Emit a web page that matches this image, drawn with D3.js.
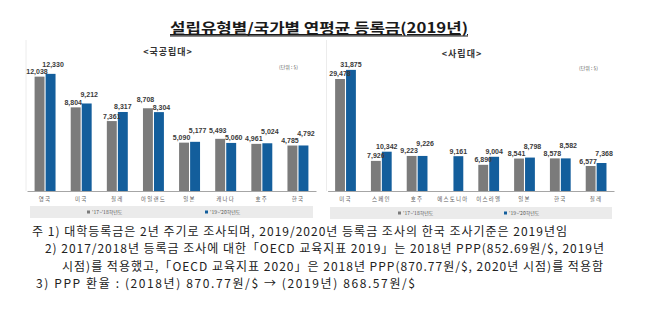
<!DOCTYPE html>
<html><head><meta charset="utf-8">
<script src="https://cdn.jsdelivr.net/npm/d3@7"></script>
<style>
html,body{margin:0;padding:0;background:#fff;}
svg{display:block;}
</style></head>
<body>
<script>
// ---- data ----
const title = "설립유형별/국가별 연평균 등록금(2019년)";
const seriesNames = ["'17~'18학년도", "'19~'20학년도"];
const publicTitle = "<국공립대>";
const publicCats = ["영국", "미국", "칠레", "아일랜드", "일본", "캐나다", "호주", "한국"];
const public1718 = [12038, 8804, 7361, 8708, 5090, 5493, 4961, 4785];
const public1920 = [12330, 9212, 8317, 8304, 5177, 5060, 5024, 4792];
const privateTitle = "<사립대>";
const privateCats = ["미국", "스페인", "호주", "에스토니아", "이스라엘", "일본", "한국", "칠레"];
const private1718 = [29478, 7926, 9223, null, 6890, 8541, 8578, 6577];
const private1920 = [31875, 10342, 9226, 9161, 9004, 8798, 8582, 7368];
const unitLabel = "(단위 : $)";
const notes = [
  "주 1) 대학등록금은 2년 주기로 조사되며, 2019/2020년 등록금 조사의 한국 조사기준은 2019년임",
  "2) 2017/2018년 등록금 조사에 대한「OECD 교육지표 2019」는 2018년 PPP(852.69원/$, 2019년",
  "시점)를 적용했고,「OECD 교육지표 2020」은 2018년 PPP(870.77원/$, 2020년 시점)를 적용함",
  "3) PPP 환율 : (2018년) 870.77원/$ → (2019년) 868.57원/$"
];

// ---- drawing ----
const W = 650, H = 327;
const colors = ["#7b7b7b", "#135e9c"];
const svg = d3.select("body").append("svg").attr("width", W).attr("height", H);
const kfont = "'Noto Sans CJK KR','Noto Sans',sans-serif";

// title
svg.append("text").attr("x", 170).attr("y", 33)
  .attr("font-family", kfont).attr("font-weight", "bold").attr("font-size", 14)
  .attr("fill", "#1a1a1a").attr("textLength", 298).attr("lengthAdjust", "spacingAndGlyphs")
  .attr("text-decoration", "underline").text(title);
svg.append("line").attr("x1", 170).attr("x2", 468).attr("y1", 36).attr("y2", 36)
  .attr("stroke", "#1a1a1a").attr("stroke-width", 1.2);

function drawChart(cfg) {
  const g = svg.append("g");
  const data = cfg.cats.map((c, i) => ({cat: c, vals: [cfg.a[i], cfg.b[i]]}));
  const x0 = d3.scaleBand().domain(cfg.cats).range(cfg.xr).paddingInner(0.42).paddingOuter(0.21);
  const x1 = d3.scaleBand().domain([0, 1]).range([0, x0.bandwidth()]).paddingInner(0.1);
  const y = d3.scaleLinear().domain([0, cfg.max]).range([191, 58]);

  // faint frame edge
  g.append("line").attr("x1", cfg.frameX).attr("x2", cfg.frameX).attr("y1", 40).attr("y2", 191)
    .attr("stroke", "#ececec").attr("stroke-width", 1);

  // subtitle
  g.append("text").attr("x", cfg.subX).attr("y", cfg.subY).attr("text-anchor", "middle")
    .attr("font-family", kfont).attr("font-weight", "bold").attr("font-size", 9)
    .attr("fill", "#333").attr("letter-spacing", 1).text(cfg.title);
  g.append("text").attr("x", cfg.unitX).attr("y", cfg.unitY)
    .attr("font-family", kfont).attr("font-size", 5).attr("fill", "#555").text(unitLabel);

  // bars
  const grp = g.selectAll("g.grp").data(data).join("g")
    .attr("transform", d => `translate(${x0(d.cat)},0)`);
  grp.selectAll("rect").data(d => d.vals.map((v, k) => ({v, k})).filter(e => e.v != null)).join("rect")
    .attr("x", e => x1(e.k)).attr("width", x1.bandwidth())
    .attr("y", e => y(e.v)).attr("height", e => 191 - y(e.v))
    .attr("fill", e => colors[e.k]);

  // value labels with simple collision avoidance
  data.forEach(d => {
    const labs = d.vals.map((v, k) => v == null ? null :
      {v, k, x: x0(d.cat) + x1(k) + x1.bandwidth() / 2, y: y(v) - 2.5});
    const [a, b] = labs;
    if (a && b && Math.abs(a.y - b.y) < 8) {
      const hi = a.v > b.v ? a : b, lo = hi === a ? b : a;
      hi.y = lo.y - 7.5;
      a.x -= 2.5; b.x += 2.5;
    }
    labs.filter(l => l).forEach(l => {
      g.append("text").attr("x", l.x).attr("y", l.y).attr("text-anchor", "middle")
        .attr("font-family", "'Liberation Sans',Arial,sans-serif").attr("font-weight", "bold")
        .attr("font-size", 7).attr("fill", "#3a3a3a").text(d3.format(",")(l.v));
    });
  });

  // axis
  const ax = g.append("g").attr("transform", "translate(0,191)")
    .call(d3.axisBottom(x0).tickSize(0).tickPadding(6).tickSizeOuter(0));
  ax.select(".domain").attr("stroke", "#a6a6a6").attr("stroke-width", 1);
  ax.selectAll("text").attr("font-family", kfont).attr("font-size", 5.5)
    .attr("fill", "#595959").attr("letter-spacing", 1.2);

  // legend
  g.append("rect").attr("x", cfg.legX).attr("y", cfg.legY).attr("width", cfg.legW).attr("height", 12)
    .attr("fill", "#ebebeb");
  seriesNames.forEach((s, k) => {
    g.append("rect").attr("x", cfg.legItems[k]).attr("y", cfg.legY + 4.5).attr("width", 3).attr("height", 3)
      .attr("fill", colors[k]);
    g.append("text").attr("x", cfg.legItems[k] + 5).attr("y", cfg.legY + 8)
      .attr("font-family", kfont).attr("font-size", 5).attr("fill", "#555").text(s);
  });
}

drawChart({cats: publicCats, a: public1718, b: public1920, max: 14000, xr: [27, 316],
  frameX: 26, title: publicTitle, subX: 168, subY: 55, unitX: 279, unitY: 69,
  legX: 30, legY: 206, legW: 283, legItems: [87, 205]});
drawChart({cats: privateCats, a: private1718, b: private1920, max: 35000, xr: [327.6, 614],
  frameX: 326.5, title: privateTitle, subX: 462, subY: 57, unitX: 579, unitY: 70,
  legX: 330, legY: 207, legW: 282, legItems: [398, 504]});

// footnotes
const noteX = [32, 45, 62, 36];
const noteY = [236, 253, 271, 288];
const noteEnd = [567, 604, 603, 415];
notes.forEach((t, i) => {
  svg.append("text").attr("x", noteX[i]).attr("y", noteY[i])
    .attr("font-family", kfont).attr("font-size", 12).attr("fill", "#222")
    .attr("textLength", noteEnd[i] - noteX[i]).attr("lengthAdjust", "spacing").text(t);
});
</script>
</body></html>
